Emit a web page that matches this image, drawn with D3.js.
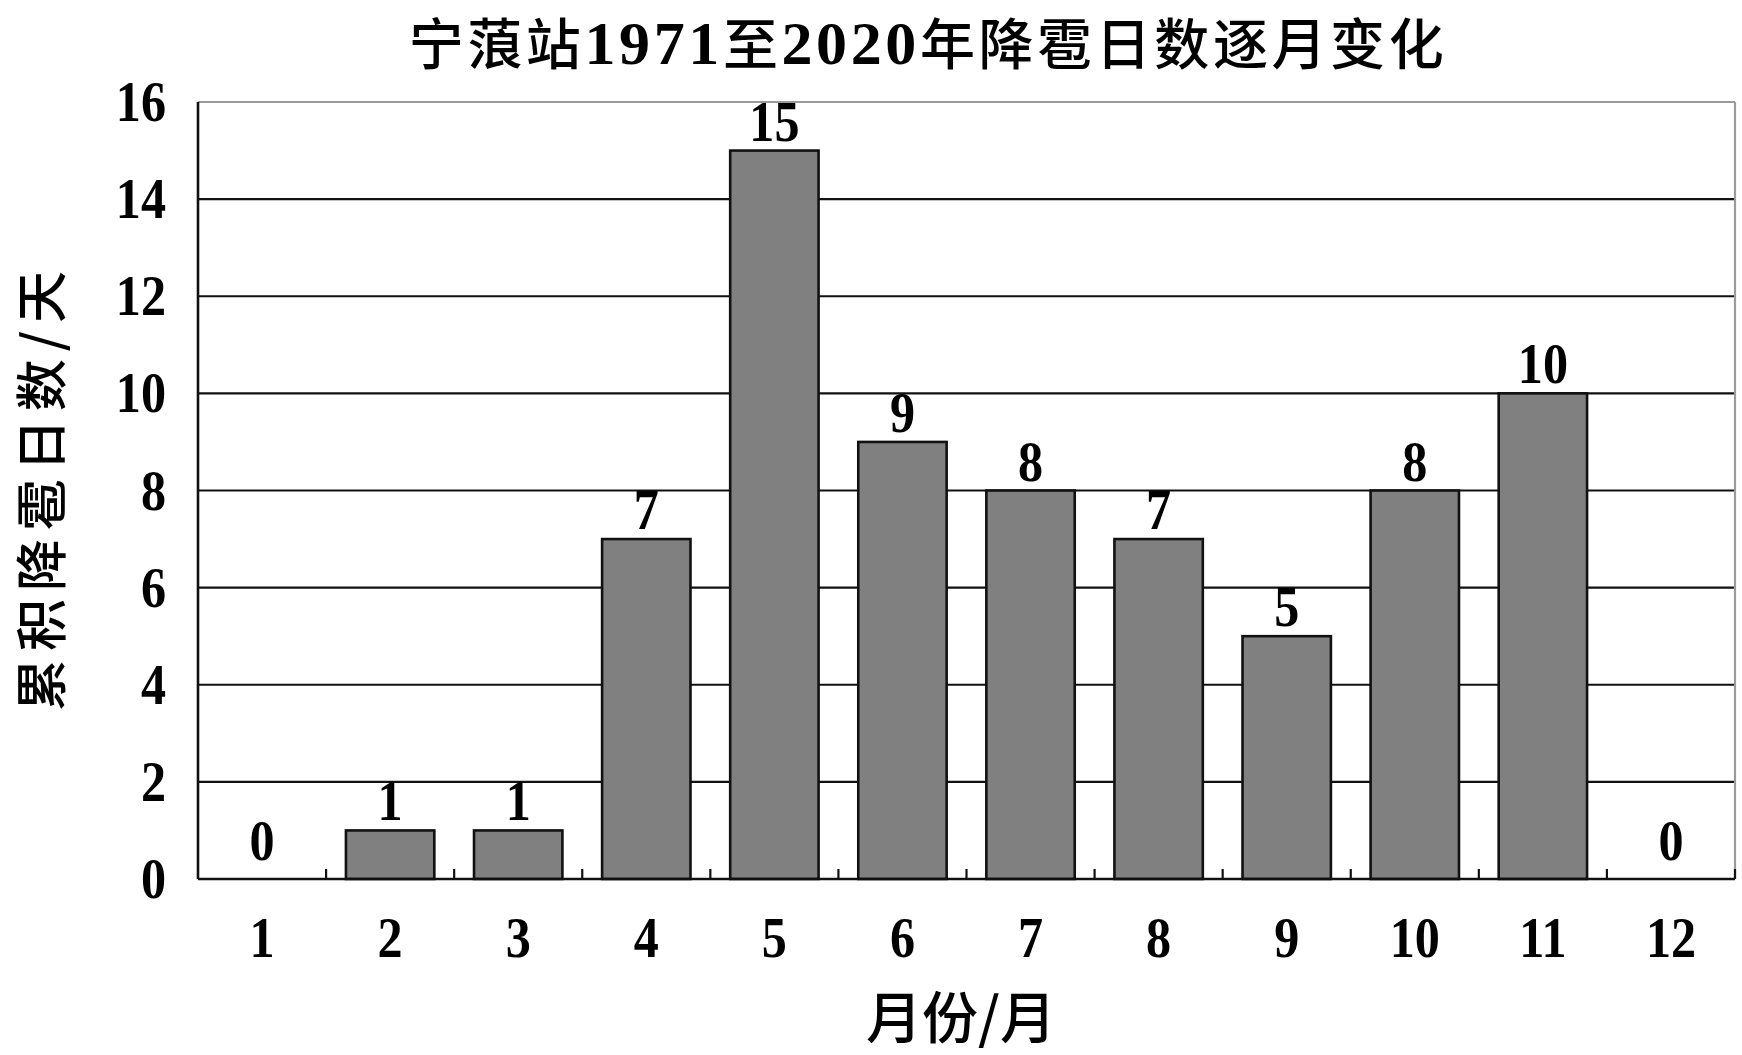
<!DOCTYPE html>
<html><head><meta charset="utf-8">
<script src="https://cdn.jsdelivr.net/npm/d3@7/dist/d3.min.js"></script>
<style>html,body{margin:0;padding:0;background:#fff;}svg{display:block;}</style>
</head><body>
<svg id="c" width="1742" height="1055"></svg>
<script>
const months = ["1","2","3","4","5","6","7","8","9","10","11","12"];
const hailDays = [0,1,1,7,15,9,8,7,5,8,10,0];
const yTicks = [0,2,4,6,8,10,12,14,16];
const titleParts = [["宁蒗站","cjk"],["1971","num"],["至","cjk"],["2020","num"],["年降雹日数逐月变化","cjk"]];
const yLabel = "累积降雹日数/天";
const xLabel = "月份/月";

const svg = d3.select("#c");
const W = 1742, H = 1055;
const m = {left:198, right:1735, top:102, bottom:879};
const numFont = "'Liberation Serif','Times New Roman',serif";
const cjkFont = "'Noto Sans CJK SC','Noto Sans',sans-serif";

const x = d3.scaleBand().domain(months).range([m.left, m.right]).paddingInner(0.31).paddingOuter(0.155);
const y = d3.scaleLinear().domain([0,16]).range([m.bottom, m.top]);

svg.append("rect").attr("width",W).attr("height",H).attr("fill","#fff");

// gridlines
svg.append("g").selectAll("line").data(yTicks.filter(d=>d>0)).join("line")
  .attr("x1",m.left).attr("x2",m.right)
  .attr("y1",d=>y(d)).attr("y2",d=>y(d))
  .attr("stroke",d=>d===16?"#9a9a9a":"#111").attr("stroke-width",2.2);
svg.append("line").attr("x1",m.right).attr("x2",m.right).attr("y1",m.top).attr("y2",m.bottom)
  .attr("stroke","#9a9a9a").attr("stroke-width",2.2);

// bars
svg.append("g").selectAll("rect").data(hailDays.map((v,i)=>({m:months[i],v}))).join("rect")
  .filter(d=>d.v>0)
  .attr("x",d=>x(d.m)).attr("width",x.bandwidth())
  .attr("y",d=>y(d.v)).attr("height",d=>y(0)-y(d.v))
  .attr("fill","#808080").attr("stroke","#111").attr("stroke-width",2.6);

// axis lines
svg.append("line").attr("x1",m.left).attr("x2",m.left).attr("y1",m.top).attr("y2",m.bottom)
  .attr("stroke","#111").attr("stroke-width",2.6);
svg.append("line").attr("x1",m.left).attr("x2",m.right).attr("y1",m.bottom).attr("y2",m.bottom)
  .attr("stroke","#111").attr("stroke-width",2.6);

// x ticks at band boundaries (inward)
const step = x.step();
const bounds = months.slice(1).map(d=> x(d) - x.paddingInner()*step/2);
bounds.push(m.right);
svg.append("g").selectAll("line").data(bounds).join("line")
  .attr("x1",d=>d).attr("x2",d=>d).attr("y1",m.bottom).attr("y2",m.bottom-10)
  .attr("stroke","#111").attr("stroke-width",2.2);

function numText(g, xp, yp, txt, anchor, size, sx){
  return g.append("text").attr("transform",`translate(${xp},${yp}) scale(${sx},1)`)
    .attr("text-anchor",anchor).attr("font-family",numFont).attr("font-weight","bold")
    .attr("font-size",size).attr("fill","#000").text(txt);
}
const NS = 57, NSX = 0.88;

const gy = svg.append("g");
yTicks.forEach(t=> numText(gy, 166, y(t)+19, String(t), "end", NS, NSX));

const gx = svg.append("g");
months.forEach(mo=> numText(gx, x(mo)+x.bandwidth()/2, 957, mo, "middle", NS, NSX));

const gv = svg.append("g");
hailDays.forEach((v,i)=> numText(gv, x(months[i])+x.bandwidth()/2, y(v) - (v===0?19:10), String(v), "middle", NS, NSX));

// title: one text, digits in serif bold
const title = svg.append("text").attr("x",928).attr("y",64).attr("text-anchor","middle")
  .attr("font-family",cjkFont).attr("font-weight","500").attr("font-size",55)
  .attr("letter-spacing",3.6).attr("fill","#000");
titleParts.forEach(([s,k])=>{
  const t = title.append("tspan").text(s);
  if(k==="num") t.attr("font-family",numFont).attr("font-weight","bold").attr("font-size",62);
});

// y label
svg.append("text").attr("transform","translate(61,491) rotate(-90)")
  .attr("text-anchor","middle").attr("font-family",cjkFont).attr("font-weight","500")
  .attr("font-size",52).attr("fill","#000")
  .attr("textLength",440).attr("lengthAdjust","spacing").text(yLabel);

// x label
svg.append("text").attr("x",961).attr("y",1038).attr("text-anchor","middle")
  .attr("font-family",cjkFont).attr("font-weight","500")
  .attr("font-size",56).attr("fill","#000").text(xLabel);
</script>
</body></html>
